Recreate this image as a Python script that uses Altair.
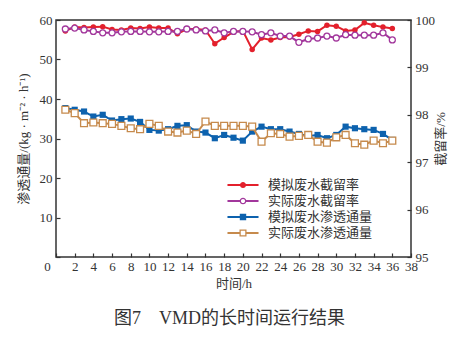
import altair as alt
import pandas as pd

hours = list(range(1, 37))
sim_rejection = [99.77, 99.85, 99.84, 99.85, 99.86, 99.80, 99.79, 99.83, 99.82, 99.85,
                 99.83, 99.83, 99.71, 99.81, 99.81, 99.79, 99.50, 99.63, 99.75, 99.77,
                 99.38, 99.62, 99.58, 99.63, 99.64, 99.70, 99.77, 99.76, 99.89, 99.87,
                 99.77, 99.79, 99.94, 99.89, 99.85, 99.82]
real_rejection = [99.81, 99.83, 99.79, 99.76, 99.73, 99.73, 99.75, 99.76, 99.76, 99.75,
                  99.75, 99.76, 99.76, 99.81, 99.79, 99.77, 99.79, 99.73, 99.76, 99.76,
                  99.75, 99.69, 99.73, 99.66, 99.66, 99.53, 99.60, 99.62, 99.66, 99.62,
                  99.69, 99.68, 99.68, 99.68, 99.73, 99.58]
sim_flux = [37.7, 37.27, 36.83, 35.56, 36.0, 34.55, 34.9, 35.05, 34.2, 32.18,
            32.0, 32.36, 33.2, 33.38, 31.75, 31.5, 30.07, 30.9, 30.2, 29.46,
            31.75, 33.0, 32.36, 32.36, 31.75, 31.16, 30.66, 30.9, 30.07, 30.9,
            33.0, 32.6, 32.36, 32.18, 31.16, 29.64]
real_flux = [37.27, 36.43, 33.88, 34.04, 33.88, 33.7, 33.2, 32.6, 32.36, 33.7,
             33.2, 31.75, 31.5, 32.0, 31.16, 34.3, 33.2, 33.2, 33.2, 33.2,
             33.0, 29.2, 31.34, 31.16, 30.48, 30.66, 30.9, 29.2, 28.95, 30.3,
             30.9, 28.8, 28.44, 29.46, 28.8, 29.46]

series_names = ["模拟废水截留率", "实际废水截留率", "模拟废水渗透通量", "实际废水渗透通量"]
series_colors = ["#e3202c", "#a2379c", "#0d62ae", "#c68a4c"]
x_ticks = list(range(0, 40, 2))
flux_ticks = [0, 10, 20, 30, 40, 50, 60]
rejection_ticks = [95, 96, 97, 98, 99, 100]

FONT = "Liberation Serif, Noto Sans CJK SC, serif"
TXT = "#333333"

# legend symbols: line segment + marker (filled or ring), unit square coordinates
line_full = "M-0.97,-0.065H0.97V0.065H-0.97Z"
line_split_c = "M-0.97,-0.065H-0.2V0.065H-0.97ZM0.2,-0.065H0.97V0.065H0.2Z"
line_split_s = "M-0.97,-0.065H-0.21V0.065H-0.97ZM0.21,-0.065H0.97V0.065H0.21Z"
legend_paths = [
    line_full + "M0.19,0A0.19,0.19 0 1,1 -0.19,0A0.19,0.19 0 1,1 0.19,0Z",
    line_split_c + "M0.21,0A0.21,0.21 0 1,1 -0.21,0A0.21,0.21 0 1,1 0.21,0Z"
    "M0.13,0A0.13,0.13 0 1,0 -0.13,0A0.13,0.13 0 1,0 0.13,0Z",
    line_full + "M-0.2,-0.2H0.2V0.2H-0.2Z",
    line_split_s + "M-0.22,-0.22H0.22V0.22H-0.22ZM-0.14,-0.14V0.14H0.14V-0.14Z",
]


def frame(values):
    return pd.DataFrame({"t": hours, "value": values})


common_axis = dict(
    domain=False, offset=-4, tickSize=4, tickColor=TXT, tickWidth=1.2,
    labelFont=FONT, labelFontSize=13, labelColor=TXT, labelFlush=False,
    labelOverlap=False, titleFont=FONT, titleFontSize=13,
    titleFontWeight="normal", titleColor=TXT, grid=False,
)

x_enc = alt.X(
    "t:Q",
    scale=alt.Scale(domain=[0, 38], nice=False, zero=False),
    axis=alt.Axis(
        values=x_ticks, title="时间/h", labelPadding=3, titlePadding=4,
        labelOffset={"condition": {"test": "datum.value === 0", "value": -9}, "value": 0},
        **common_axis,
    ),
)

y_left = alt.Y(
    "value:Q",
    scale=alt.Scale(domain=[0, 60], nice=False, zero=False),
    axis=alt.Axis(
        orient="left", values=flux_ticks, title="渗透通量/(kg · m⁻² · h⁻¹)",
        labelPadding=4, titlePadding=9,
        labelExpr="datum.value == 0 ? '' : datum.label",
        **common_axis,
    ),
)

y_right = alt.Y(
    "value:Q",
    scale=alt.Scale(domain=[95, 100], nice=False, zero=False),
    axis=alt.Axis(
        orient="right", values=rejection_ticks, title="截留率/%",
        labelPadding=4, titlePadding=13, titleAngle=270,
        **common_axis,
    ),
)


def series_layers(values, color, y_enc, shape, size, filled):
    base = alt.Chart(frame(values)).encode(x=x_enc, y=y_enc)
    line = base.mark_line(color=color, strokeWidth=2)
    if filled:
        pts = base.mark_point(shape=shape, size=size, filled=True, color=color, opacity=1)
    else:
        pts = base.mark_point(shape=shape, size=size, filled=False, fill="white",
                              stroke=color, strokeWidth=1.3, opacity=1, fillOpacity=1)
    return [line, pts]


left = alt.layer(
    *series_layers(sim_flux, series_colors[2], y_left, "square", 38, True),
    *series_layers(real_flux, series_colors[3], y_left, "square", 47, False),
)
right = alt.layer(
    *series_layers(sim_rejection, series_colors[0], y_right, "circle", 30, True),
    *series_layers(real_rejection, series_colors[1], y_right, "circle", 36, False),
)

legend = alt.Legend(
    title=None, orient="none", legendX=171, legendY=157, symbolSize=1024,
    symbolOpacity=1, symbolStrokeWidth=0, clipHeight=16, labelFont=FONT,
    labelFontSize=13, labelColor=TXT, labelOffset=9, padding=0, rowPadding=0,
)

legend_layer = alt.Chart(pd.DataFrame({"series": series_names})).mark_point(
    filled=True, opacity=0
).encode(
    color=alt.Color("series:N", scale=alt.Scale(domain=series_names, range=series_colors), legend=legend),
    shape=alt.Shape("series:N", scale=alt.Scale(domain=series_names, range=legend_paths), legend=legend),
)

chart = alt.layer(left, right, legend_layer).resolve_scale(y="independent").properties(
    width=355,
    height=237,
    title=alt.TitleParams(
        "图7\u3000VMD的长时间运行结果", orient="bottom", anchor="middle", font=FONT,
        fontSize=18, fontWeight="normal", color=TXT, offset=20, dx=-4,
    ),
    autosize=alt.AutoSizeParams(type="none"),
    padding={"left": 56, "top": 20, "right": 49, "bottom": 85},
    background="white",
).configure_view(stroke=TXT, strokeWidth=1.5)

chart.save("out.html", embed_options={"renderer": "svg", "actions": False})
